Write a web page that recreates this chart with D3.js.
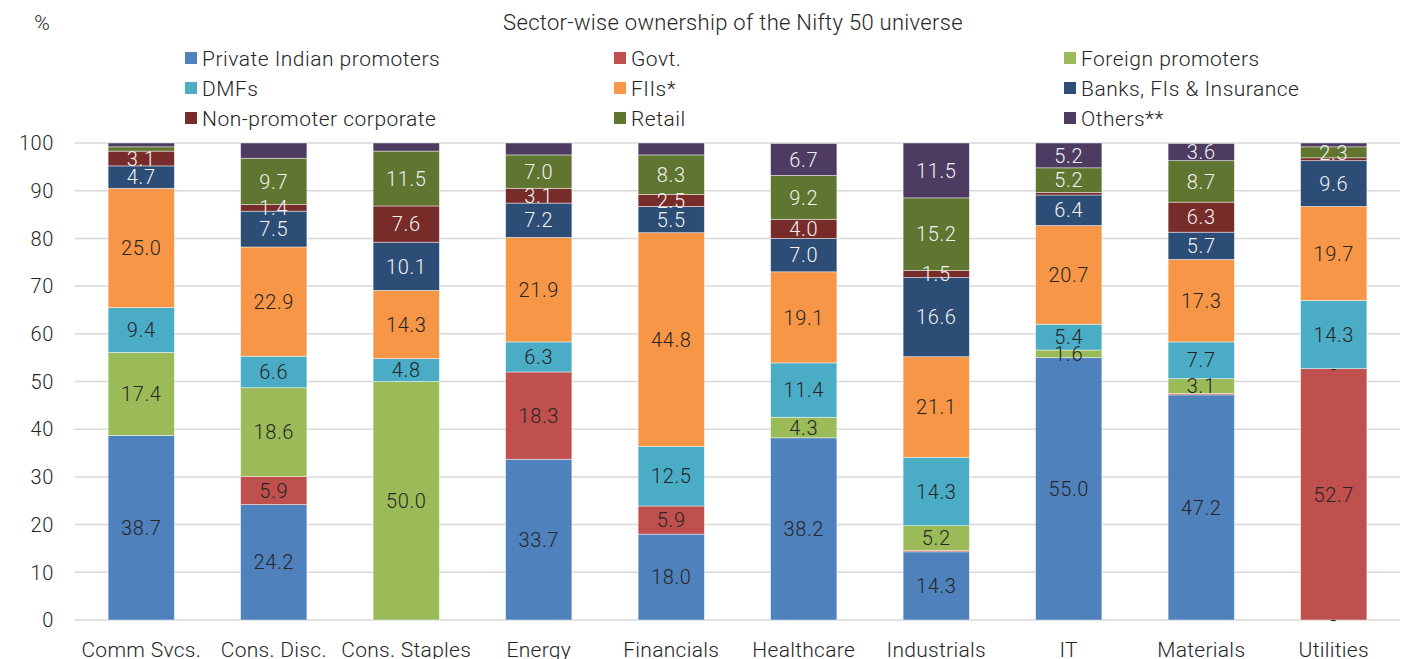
<!DOCTYPE html>
<html>
<head>
<meta charset="utf-8">
<script src="https://cdn.jsdelivr.net/npm/d3@7"></script>
<style>
  html, body { margin: 0; padding: 0; background: #fff; }
  svg { display: block; }
  text { font-family: Roboto, "Open Sans", "Liberation Sans", sans-serif; font-weight: 300; fill: #262626; }
</style>
</head>
<body>
<svg id="chart" width="1408" height="659"></svg>
<script>
// ---- Data ----
const categories = ["Comm Svcs.", "Cons. Disc.", "Cons. Staples", "Energy", "Financials",
                    "Healthcare", "Industrials", "IT", "Materials", "Utilities"];
const seriesNames = ["Private Indian promoters", "Govt.", "Foreign promoters", "DMFs", "FIIs*",
                     "Banks, FIs & Insurance", "Non-promoter corporate", "Retail", "Others**"];
// null = blank (no label), 0 = shown as "-"
const privateIndian   = [38.7, 24.2, null, 33.7, 18.0, 38.2, 14.3, 55.0, 47.2, 0];
const govt            = [null, 5.9, null, 18.3, 5.9, null, 0.3, null, 0.3, 52.7];
const foreignPromoter = [17.4, 18.6, 50.0, null, null, 4.3, 5.2, 1.6, 3.1, 0];
const dmfs            = [9.4, 6.6, 4.8, 6.3, 12.5, 11.4, 14.3, 5.4, 7.7, 14.3];
const fiis            = [25.0, 22.9, 14.3, 21.9, 44.8, 19.1, 21.1, 20.7, 17.3, 19.7];
const banks           = [4.7, 7.5, 10.1, 7.2, 5.5, 7.0, 16.6, 6.4, 5.7, 9.6];
const nonPromoter     = [3.1, 1.4, 7.6, 3.1, 2.5, 4.0, 1.5, 0.5, 6.3, 0.6];
const retail          = [0.9, 9.7, 11.5, 7.0, 8.3, 9.2, 15.2, 5.2, 8.7, 2.3];
const others          = [0.8, 3.2, 1.7, 2.5, 2.5, 6.7, 11.5, 5.2, 3.6, 0.8];
// categories whose "Others**" segment carries no data label in the reference
const othersUnlabelled = ["Comm Svcs.", "Cons. Disc.", "Cons. Staples", "Energy", "Financials", "Utilities"];
const yTicks = [0, 10, 20, 30, 40, 50, 60, 70, 80, 90, 100];
const titleText = "Sector-wise ownership of the Nifty 50 universe";
const unitText = "%";

const seriesValues = [privateIndian, govt, foreignPromoter, dmfs, fiis, banks, nonPromoter, retail, others];
const colors = ["#4F81BD", "#C0504D", "#9BBB59", "#4BACC6", "#F79646", "#2C4D75", "#772C2A", "#5F7530", "#4D3B62"];
const labelColors = ["#262626", "#262626", "#262626", "#262626", "#262626", "#F2F2F2", "#F2F2F2", "#F2F2F2", "#F2F2F2"];

// ---- Layout ----
const svg = d3.select("#chart");
const margin = { left: 75, right: 8, top: 143, bottom: 39 };
const W = 1408, H = 659;
const x = d3.scaleBand().domain(categories).range([margin.left, W - margin.right]).paddingInner(0.5).paddingOuter(0.25);
const y = d3.scaleLinear().domain([0, 100]).range([H - margin.bottom, margin.top]);

const table = categories.map((c, i) => {
  const row = { cat: c };
  seriesNames.forEach((s, j) => { row[s] = seriesValues[j][i]; });
  return row;
});
const stack = d3.stack().keys(seriesNames).value((d, k) => d[k] == null ? 0 : d[k]);
const stacked = stack(table);

// Gridlines
svg.append("g").selectAll("line").data(yTicks).join("line")
  .attr("x1", margin.left).attr("x2", W - margin.right)
  .attr("y1", d => y(d)).attr("y2", d => y(d))
  .attr("stroke", "#D9D9D9").attr("stroke-width", 1.5);

// Y axis labels
svg.append("g").selectAll("text").data(yTicks).join("text")
  .attr("x", 54).attr("y", d => y(d)).attr("dy", "0.36em")
  .attr("text-anchor", "end").attr("font-size", 20).attr("letter-spacing", 0.6).text(d => d);

// Bars
const layers = svg.append("g").selectAll("g").data(stacked).join("g")
  .attr("fill", (d, i) => colors[i]);
layers.selectAll("rect").data(d => d).join("rect")
  .attr("x", d => x(d.data.cat))
  .attr("width", x.bandwidth())
  .attr("y", d => y(d[1]))
  .attr("height", d => Math.max(0, y(d[0]) - y(d[1])))
  .attr("stroke", "rgba(255,255,255,0.55)").attr("stroke-width", 0.8);

// Labels
const lbl = svg.append("g");
stacked.forEach((layer, i) => {
  layer.forEach(d => {
    const v = d.data[layer.key];
    if (v == null) return;
    if (v > 0 && v < 1) return;
    if (layer.key === "Others**" && othersUnlabelled.includes(d.data.cat)) return;
    lbl.append("text")
      .attr("x", x(d.data.cat) + x.bandwidth() / 2)
      .attr("y", (y(d[0]) + y(d[1])) / 2)
      .attr("dy", "0.36em")
      .attr("text-anchor", "middle")
      .attr("font-size", 20)
      .attr("letter-spacing", 0.6)
      .style("fill", labelColors[i])
      .text(v === 0 ? "-" : v.toFixed(1));
  });
});

// X axis labels
svg.append("g").selectAll("text").data(categories).join("text")
  .attr("x", d => x(d) + x.bandwidth() / 2).attr("y", 657)
  .attr("text-anchor", "middle").attr("font-size", 21).attr("letter-spacing", 0.3).text(d => d);

// Title and unit
svg.append("text").attr("x", 733).attr("y", 30).attr("text-anchor", "middle").attr("font-size", 22).attr("letter-spacing", 0.3).text(titleText);
svg.append("text").attr("x", 42).attr("y", 30).attr("text-anchor", "middle").attr("font-size", 21).text(unitText);

// Legend
const legCols = [185, 614, 1064];
const legRows = [58, 88, 118];
const leg = svg.append("g");
seriesNames.forEach((s, i) => {
  const cx = legCols[i % 3], cy = legRows[Math.floor(i / 3)];
  leg.append("rect").attr("x", cx).attr("y", cy - 6).attr("width", 12).attr("height", 12).attr("fill", colors[i]);
  leg.append("text").attr("x", cx + 17).attr("y", cy).attr("dy", "0.36em").attr("font-size", 21).attr("letter-spacing", 0.5).text(s);
});
</script>
</body>
</html>
